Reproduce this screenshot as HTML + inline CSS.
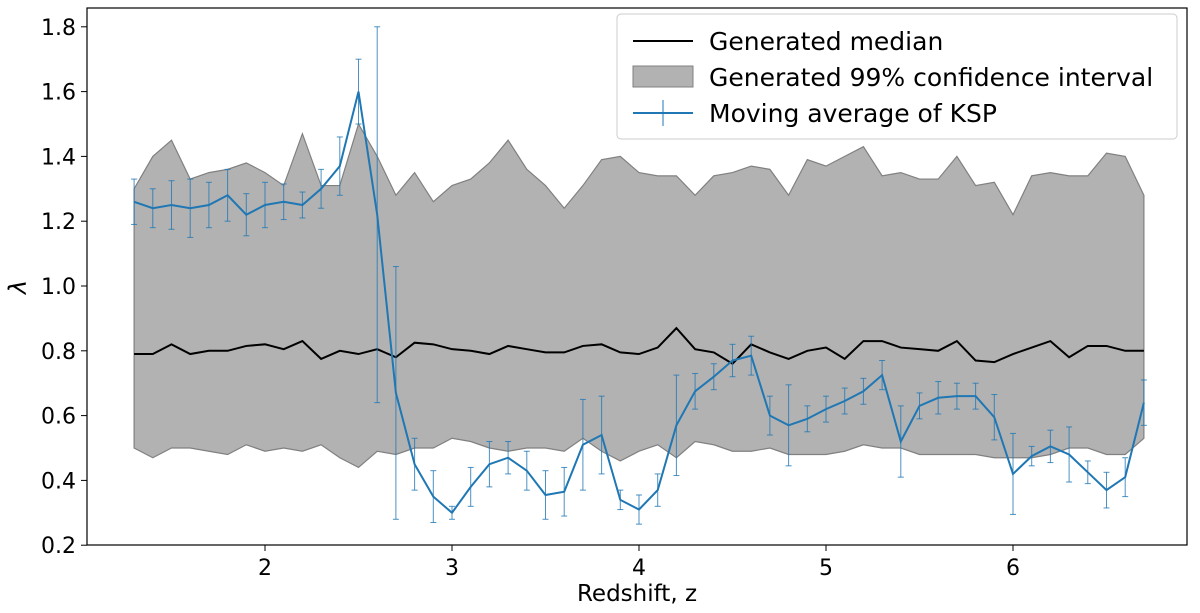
<!DOCTYPE html>
<html><head><meta charset="utf-8"><style>
body{margin:0;background:#fff}
svg{display:block;font-family:"DejaVu Sans","Liberation Sans",sans-serif}
</style></head><body>
<svg id="chart" width="1200" height="613">
<g id="plot"></g>
<rect x="87" y="8" width="1100" height="537" fill="none" stroke="#000" stroke-width="1.2"/>
<g id="axes"></g>
<text x="637" y="601" font-size="23" text-anchor="middle">Redshift, z</text>
<text x="0" y="0" font-size="24" font-style="italic" text-anchor="middle" transform="translate(26,287) rotate(-90)">λ</text>
<g>
<rect x="617" y="14" width="560" height="125" rx="4" fill="#fff" fill-opacity="0.8" stroke="#ccc"/>
<line x1="633" y1="41" x2="693" y2="41" stroke="#000" stroke-width="2"/>
<text x="709" y="50" font-size="25">Generated median</text>
<rect x="633" y="66" width="60" height="21" fill="#b2b2b2" stroke="#808080"/>
<text x="709" y="86" font-size="25">Generated 99% confidence interval</text>
<line x1="633" y1="113" x2="693" y2="113" stroke="#1f77b4" stroke-width="2"/>
<line x1="663" y1="100" x2="663" y2="126" stroke="#1f77b4" stroke-width="1"/>
<text x="709" y="122" font-size="25">Moving average of KSP</text>
</g>
</svg>
<script>
const zStart = 1.3, zStep = 0.1;
const upper = [1.30,1.40,1.45,1.33,1.35,1.36,1.38,1.35,1.31,1.47,1.31,1.31,1.50,1.40,1.28,1.35,1.26,1.31,1.33,1.38,1.45,1.36,1.31,1.24,1.31,1.39,1.40,1.35,1.34,1.34,1.28,1.34,1.35,1.37,1.36,1.28,1.39,1.37,1.40,1.43,1.34,1.35,1.33,1.33,1.40,1.31,1.32,1.22,1.34,1.35,1.34,1.34,1.41,1.40,1.28];
const lower = [0.50,0.47,0.50,0.50,0.49,0.48,0.51,0.49,0.50,0.49,0.51,0.47,0.44,0.49,0.48,0.50,0.50,0.53,0.52,0.50,0.49,0.50,0.50,0.49,0.53,0.49,0.46,0.49,0.51,0.47,0.52,0.51,0.49,0.49,0.50,0.48,0.48,0.48,0.49,0.51,0.50,0.50,0.48,0.48,0.48,0.48,0.47,0.47,0.47,0.48,0.50,0.50,0.48,0.48,0.53];
const median = [0.79,0.79,0.82,0.79,0.80,0.80,0.815,0.82,0.805,0.83,0.775,0.80,0.79,0.805,0.78,0.825,0.82,0.805,0.80,0.79,0.815,0.805,0.795,0.795,0.815,0.82,0.795,0.79,0.81,0.87,0.805,0.795,0.76,0.82,0.795,0.775,0.80,0.81,0.775,0.83,0.83,0.81,0.805,0.80,0.83,0.77,0.765,0.79,0.81,0.83,0.78,0.815,0.815,0.80,0.80];
const ksp = [1.26,1.24,1.25,1.24,1.25,1.28,1.22,1.25,1.26,1.25,1.30,1.37,1.60,1.22,0.67,0.45,0.35,0.30,0.38,0.45,0.47,0.43,0.355,0.365,0.51,0.54,0.34,0.31,0.37,0.57,0.675,0.72,0.77,0.785,0.60,0.57,0.59,0.62,0.645,0.675,0.725,0.52,0.63,0.655,0.66,0.66,0.595,0.42,0.475,0.505,0.48,0.425,0.37,0.41,0.64];
const kspErr = [0.07,0.06,0.075,0.09,0.07,0.08,0.065,0.07,0.055,0.04,0.06,0.09,0.10,0.58,0.39,0.08,0.08,0.02,0.06,0.07,0.05,0.06,0.075,0.075,0.14,0.12,0.03,0.045,0.05,0.155,0.055,0.04,0.05,0.06,0.06,0.125,0.04,0.04,0.04,0.04,0.045,0.11,0.04,0.05,0.04,0.04,0.07,0.125,0.03,0.05,0.085,0.035,0.055,0.06,0.07,0.005];
const xTicks = [2,3,4,5,6];
const yTicks = [0.2,0.4,0.6,0.8,1.0,1.2,1.4,1.6,1.8];

const X = z => 265 + (z - 2) * 187;
const Y = v => 286 - (v - 1.0) * 324;
const NS = 'http://www.w3.org/2000/svg';
const plot = document.getElementById('plot'), axes = document.getElementById('axes');
function mk(tag, attrs, parent){const e=document.createElementNS(NS,tag);for(const k in attrs)e.setAttribute(k,attrs[k]);parent.appendChild(e);return e;}
const zs = upper.map((_, i) => zStart + i * zStep);

const bandPts = zs.map((z,i)=>X(z)+','+Y(upper[i])).concat(zs.slice().reverse().map((z,j)=>{const i=zs.length-1-j;return X(z)+','+Y(lower[i]);})).join(' ');
const band = mk('polygon',{points:bandPts,fill:'#b2b2b2',stroke:'#808080','stroke-width':1.2},plot);



const med = mk('polyline',{points:zs.map((z,i)=>X(z)+','+Y(median[i])).join(' '),fill:'none',stroke:'#000','stroke-width':2},plot);



ksp.forEach((v,i)=>{
  const x = X(zs[i]), y1 = Y(v + kspErr[i]), y2 = Y(v - kspErr[i]);
  const g = mk('g',{stroke:'#1f77b4','stroke-width':1,'stroke-opacity':0.8},plot);
  
  
  mk('line',{x1:x,y1:y1,x2:x,y2:y2},g);
  mk('line',{x1:x-3,y1:y1,x2:x+3,y2:y1},g);
  mk('line',{x1:x-3,y1:y2,x2:x+3,y2:y2},g);
});
const kl = mk('polyline',{points:zs.map((z,i)=>X(z)+','+Y(ksp[i])).join(' '),fill:'none',stroke:'#1f77b4','stroke-width':2},plot);



xTicks.forEach(t=>{
  mk('line',{x1:X(t),y1:545,x2:X(t),y2:551,stroke:'#000'},axes);
  const tx = mk('text',{x:X(t),y:575,'font-size':22,'text-anchor':'middle'},axes);
  tx.textContent = t;
  
  
});
yTicks.forEach(t=>{
  mk('line',{x1:81,y1:Y(t),x2:87,y2:Y(t),stroke:'#000'},axes);
  const tx = mk('text',{x:76,y:Y(t)+8,'font-size':22,'text-anchor':'end'},axes);
  tx.textContent = t.toFixed(1);
  
  
});
</script>
</body></html>
